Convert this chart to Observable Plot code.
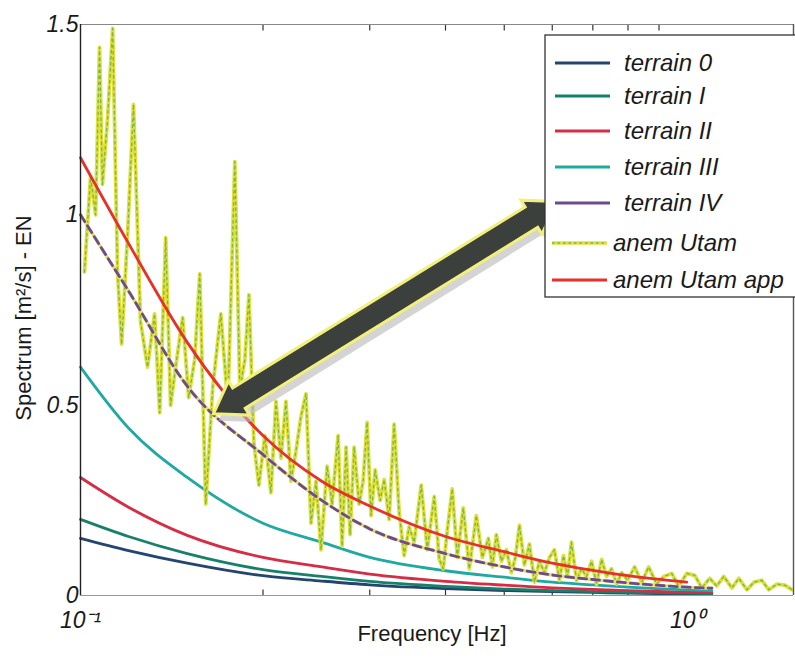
<!DOCTYPE html>
<html><head><meta charset="utf-8">
<script src="https://cdn.jsdelivr.net/npm/d3@7"></script>
<script src="https://cdn.jsdelivr.net/npm/@observablehq/plot@0.6"></script>
<style>
html,body{margin:0;padding:0;background:#fff;overflow:hidden;}
#chart{position:relative;width:795px;height:668px;}
</style></head><body><div id="chart"></div>
<script>
// ---- data ----
const seriesNames = ["terrain 0", "terrain I", "terrain II", "terrain III", "terrain IV", "anem Utam", "anem Utam app"];
const seriesColors = ["#24456e", "#17806a", "#d62c44", "#1fa9a0", "#6f4a8c", "#dfe03e", "#e8302a"];

const terrainFreq = [0.1, 0.12, 0.15, 0.2, 0.25, 0.3, 0.4, 0.5, 0.6, 0.7, 0.8, 1.0, 1.1];
const terrain0   = [0.15, 0.118, 0.085, 0.052, 0.038, 0.028, 0.018, 0.013, 0.010, 0.008, 0.006, 0.004, 0.0035];
const terrainI   = [0.20, 0.155, 0.11, 0.068, 0.05, 0.037, 0.024, 0.017, 0.013, 0.010, 0.008, 0.006, 0.005];
const terrainII  = [0.31, 0.232, 0.158, 0.10, 0.075, 0.056, 0.037, 0.027, 0.020, 0.016, 0.013, 0.009, 0.008];
const terrainIII = [0.60, 0.44, 0.31, 0.19, 0.14, 0.10, 0.065, 0.048, 0.035, 0.028, 0.022, 0.015, 0.013];
const terrainIV  = [1.0, 0.80, 0.55, 0.37, 0.25, 0.175, 0.11, 0.075, 0.054, 0.042, 0.033, 0.022, 0.019];

const appFreq  = [0.1, 0.12, 0.15, 0.2, 0.25, 0.3, 0.4, 0.5, 0.6, 0.7, 0.8, 1.0];
const appValue = [1.15, 0.925, 0.665, 0.42, 0.30, 0.235, 0.155, 0.115, 0.085, 0.066, 0.052, 0.035];

const utamFreq = [0.1015,0.1039,0.1059,0.1075,0.1087,0.1108,0.1130,0.1151,0.1169,0.1196,0.1223,0.1256,0.1290,0.1325,0.1351,0.1382,0.1408,0.1441,0.1474,0.1508,
  0.1543,0.1573,0.1609,0.1653,0.1704,0.1750,0.1797,0.1832,0.1867,0.1896,0.1932,0.1969,0.2014,0.2061,0.2101,0.2141,0.2182,0.2224,0.2267,0.2310,
  0.2355,0.2400,0.2446,0.2493,0.2551,0.2600,0.2660,0.2701,0.2742,0.2784,0.2827,0.2881,0.2925,0.2970,0.3015,0.3062,0.3121,0.3169,0.3229,0.3291,
  0.3354,0.3419,0.3484,0.3551,0.3648,0.3732,0.3833,0.3906,0.3966,0.4027,0.4104,0.4183,0.4279,0.4378,0.4497,0.4601,0.4707,0.4779,0.4853,0.4946,
  0.5041,0.5137,0.5216,0.5297,0.5398,0.5502,0.5608,0.5715,0.5825,0.5937,0.6050,0.6167,0.6261,0.6357,0.6454,0.6579,0.6705,0.6834,0.6966,0.7100,
  0.7237,0.7376,0.7516,0.7661,0.7809,0.7989,0.8204,0.8426,0.8654,0.8921,0.9162,0.9445,0.9700,1.0,1.031,1.059,1.091,1.121,1.151,1.187,
  1.219,1.257,1.291,1.330,1.366,1.409,1.452,1.492];
const utamValue = [0.85,1.10,1.00,1.44,1.08,1.25,1.49,0.85,0.66,0.95,1.29,0.72,0.60,0.74,0.48,0.94,0.50,0.62,0.73,0.52,
  0.62,0.845,0.24,0.55,0.74,0.50,1.14,0.54,0.62,0.79,0.40,0.29,0.42,0.27,0.51,0.36,0.51,0.30,0.38,0.47,
  0.53,0.19,0.30,0.12,0.34,0.24,0.42,0.13,0.39,0.16,0.39,0.24,0.30,0.455,0.21,0.33,0.25,0.305,0.20,0.45,
  0.22,0.105,0.18,0.14,0.29,0.12,0.26,0.095,0.07,0.17,0.28,0.10,0.23,0.07,0.21,0.10,0.15,0.075,0.16,0.09,
  0.12,0.06,0.10,0.185,0.08,0.135,0.035,0.09,0.06,0.10,0.12,0.04,0.105,0.05,0.14,0.04,0.07,0.05,0.09,0.03,
  0.095,0.05,0.07,0.03,0.06,0.04,0.075,0.035,0.075,0.03,0.05,0.058,0.025,0.058,0.053,0.02,0.045,0.025,0.05,0.02,
  0.045,0.015,0.035,0.04,0.015,0.03,0.027,0.015];

const xTicks = [0.1, 1];
const xTickLabels = ["10\u207B\u00B9", "10\u2070"];
const minorTicks = [0.2, 0.3, 0.4, 0.5, 0.6, 0.7, 0.8, 0.9];
const yTicks = [0, 0.5, 1, 1.5];
const yTickLabels = ["0", "0.5", "1", "1.5"];
const xLabel = "Frequency [Hz]";
const yLabel = "Spectrum [m\u00B2/s] - EN";
const arrowEnds = [{f: 0.166, v: 0.476}, {f: 0.612, v: 1.034}];

// ---- build tables ----
const terrainValues = [terrain0, terrainI, terrainII, terrainIII, terrainIV];
const terrain = terrainValues.map((vals, k) => terrainFreq.map((f, i) => ({f, v: vals[i], s: seriesNames[k]})));
const utam = utamFreq.map((f, i) => ({f, v: utamValue[i]}));
const app = appFreq.map((f, i) => ({f, v: appValue[i]}));
const tickBottom = minorTicks.map(f => ({f, a: 0, b: 0.016}));
const tickTop = minorTicks.map(f => ({f, a: 1.484, b: 1.5}));

const font = "'Liberation Sans', Arial, Helvetica, sans-serif";
const lw = 2.8;

const plot = Plot.plot({
  width: 795, height: 668,
  marginLeft: 80, marginRight: 2, marginTop: 24, marginBottom: 73,
  style: {fontFamily: font, background: "white", color: "#1a1a1a"},
  x: {type: "log", domain: [0.1, 1.5]},
  y: {domain: [0, 1.5]},
  marks: [
    Plot.link(tickBottom, {x1: "f", x2: "f", y1: "a", y2: "b", stroke: "#333", strokeWidth: 1.2}),
    Plot.link(tickTop, {x1: "f", x2: "f", y1: "a", y2: "b", stroke: "#333", strokeWidth: 1.2}),
    Plot.line(terrain[0], {x: "f", y: "v", stroke: seriesColors[0], strokeWidth: lw, curve: "monotone-x"}),
    Plot.line(terrain[1], {x: "f", y: "v", stroke: seriesColors[1], strokeWidth: lw, curve: "monotone-x"}),
    Plot.line(terrain[2], {x: "f", y: "v", stroke: seriesColors[2], strokeWidth: lw, curve: "monotone-x"}),
    Plot.line(terrain[3], {x: "f", y: "v", stroke: seriesColors[3], strokeWidth: lw, curve: "monotone-x"}),
    Plot.line(utam, {x: "f", y: "v", stroke: seriesColors[5], strokeWidth: 3.8, strokeLinejoin: "round"}),
    Plot.line(utam, {x: "f", y: "v", stroke: "#7fb83c", strokeWidth: 1.4, strokeDasharray: "2.5,3.5"}),
    Plot.line(terrain[4], {x: "f", y: "v", stroke: "#e6e070", strokeWidth: lw + 0.6, curve: "monotone-x"}),
    Plot.line(terrain[4], {x: "f", y: "v", stroke: seriesColors[4], strokeWidth: lw, strokeDasharray: "8,5", curve: "monotone-x"}),
    Plot.line(app, {x: "f", y: "v", stroke: seriesColors[6], strokeWidth: lw, curve: "monotone-x"}),
    Plot.ruleY([0], {stroke: "#999", strokeWidth: 1.2}),
    Plot.ruleY([1.5], {stroke: "#888", strokeWidth: 1.2}),
    Plot.ruleX([0.1], {stroke: "#222", strokeWidth: 1.4}),
    Plot.ruleX([1.5], {stroke: "#555", strokeWidth: 1.4}),
    Plot.axisX({ticks: xTicks, tickSize: 0, tickPadding: 16, tickFormat: d => xTickLabels[xTicks.indexOf(d)],
      fontSize: 23, fontStyle: "italic", label: null}),
    Plot.axisY({ticks: yTicks, tickSize: 0, tickPadding: 2, tickFormat: d => yTickLabels[yTicks.indexOf(d)],
      fontSize: 23, fontStyle: "italic", label: null})
  ]
});

document.getElementById("chart").appendChild(plot);

const svg = d3.select(plot);
const sx = plot.scale("x"), sy = plot.scale("y");

// ---- axis titles ----
svg.append("text").attr("x", 432).attr("y", 633).attr("dy", "0.35em")
  .attr("text-anchor", "middle").attr("font-size", 22).attr("font-family", font)
  .attr("fill", "#1a1a1a").text(xLabel);
svg.append("text").attr("transform", "translate(23,318) rotate(-90)").attr("dy", "0.35em")
  .attr("text-anchor", "middle").attr("font-size", 22).attr("font-family", font)
  .attr("fill", "#1a1a1a").text(yLabel);

// ---- annotation arrow (positions through the plot's scales) ----
(function drawArrow() {
  const x1 = sx.apply(arrowEnds[0].f), y1 = sy.apply(arrowEnds[0].v);
  const x2 = sx.apply(arrowEnds[1].f), y2 = sy.apply(arrowEnds[1].v);
  const dx = x2 - x1, dy = y2 - y1, L = Math.hypot(dx, dy);
  const ux = dx / L, uy = dy / L, nx = -uy, ny = ux;
  const hl = 30, hw = 20, sw = 12;
  const P = (t, s) => [x1 + ux * t + nx * s, y1 + uy * t + ny * s];
  const pts = [P(0,0), P(hl,hw), P(hl,sw), P(L-hl,sw), P(L-hl,hw), P(L,0), P(L-hl,-hw), P(L-hl,-sw), P(hl,-sw), P(hl,-hw)];
  const path = "M" + pts.map(p => p.join(",")).join("L") + "Z";
  const g = svg.append("g");
  g.append("path").attr("d", path).attr("transform", "translate(5,7)")
    .attr("fill", "#b8b8b8").attr("opacity", 0.6);
  g.append("path").attr("d", path).attr("fill", "#3b403c")
    .attr("stroke", "#f2f07a").attr("stroke-width", 3).attr("stroke-linejoin", "miter");
})();

// ---- legend ----
(function drawLegend() {
  const g = svg.append("g");
  g.append("rect").attr("x", 545).attr("y", 35).attr("width", 300).attr("height", 262)
    .attr("fill", "white").attr("stroke", "#333").attr("stroke-width", 1.3);
  const rowY = [63, 96, 131, 167, 203, 243, 280];
  seriesNames.forEach((name, i) => {
    const y = rowY[i];
    const lx1 = i >= 5 ? 552 : 555, lx2 = lx1 + 55;
    if (i === 5) {
      g.append("line").attr("x1", lx1).attr("x2", lx2).attr("y1", y).attr("y2", y)
        .attr("stroke", seriesColors[5]).attr("stroke-width", 3.4);
      g.append("line").attr("x1", lx1).attr("x2", lx2).attr("y1", y).attr("y2", y)
        .attr("stroke", "#7fb83c").attr("stroke-width", 1.3).attr("stroke-dasharray", "2.5,3");
    } else {
      g.append("line").attr("x1", lx1).attr("x2", lx2).attr("y1", y).attr("y2", y)
        .attr("stroke", seriesColors[i]).attr("stroke-width", 3);
    }
    g.append("text").attr("x", i >= 5 ? 613 : 624).attr("y", y).attr("dy", "0.35em")
      .attr("text-anchor", "start")
      .attr("font-size", 24).attr("font-style", "italic").attr("font-family", font)
      .attr("fill", "#1a1a1a").text(name);
  });
})();
</script></body></html>
